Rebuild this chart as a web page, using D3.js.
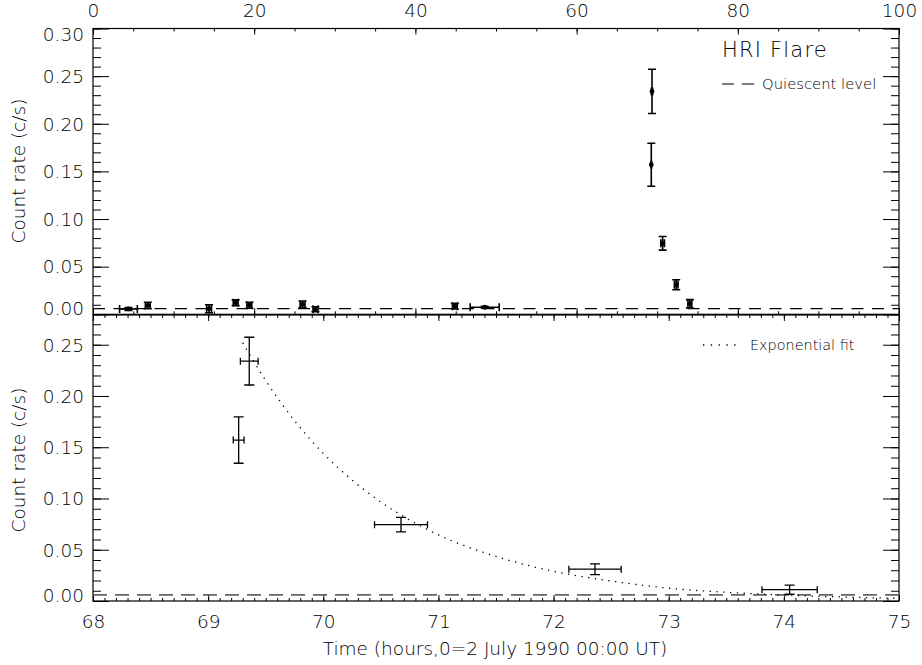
<!DOCTYPE html>
<html>
<head>
<meta charset="utf-8">
<title>HRI Flare</title>
<script src="https://cdn.jsdelivr.net/npm/d3@7"></script>
<style>
  body { margin: 0; background: #fff; }
  svg text { font-family: "DejaVu Sans", sans-serif; font-weight: 200; fill: #000; }
  .tick line { stroke: #000; }
</style>
</head>
<body>
<div id="chart"></div>
<script>
// quiescent (pre-flare) points, hours since 2 July 1990 00:00 UT
var preT       = [4.4, 6.8, 14.4, 17.7, 19.4, 26.0, 27.6, 44.9, 48.6];
var preRate    = [0.0056, 0.0093, 0.0058, 0.0121, 0.0095, 0.0105, 0.0054, 0.0085, 0.0074];
var preTErr    = [1.1, 0.3, 0.3, 0.3, 0.3, 0.3, 0.3, 0.3, 1.8];
var preRateErr = [0.0015, 0.0033, 0.0042, 0.003, 0.0032, 0.0035, 0.0026, 0.003, 0.001];

// flare points
var flareT       = [69.265, 69.357, 70.675, 72.36, 74.05];
var flareRate    = [0.157, 0.234, 0.0745, 0.031, 0.011];
var flareTErr    = [0.047, 0.077, 0.23, 0.227, 0.24];
var flareRateErr = [0.0226, 0.0233, 0.0071, 0.0053, 0.0044];

// exponential fit
var fitT = [69.3, 69.5, 69.75, 70.0, 70.25, 70.5, 70.75, 71.0, 71.5, 72.0, 72.5, 73.0, 73.5, 74.0, 74.5, 75.0];
var fitY = [0.252, 0.215, 0.176, 0.144, 0.118, 0.0965, 0.079, 0.0645, 0.0435, 0.029, 0.0195, 0.0125, 0.0085, 0.0058, 0.0039, 0.0026];

var quiescent = 0.006;

var topTicks = [0, 20, 40, 60, 80, 100];
var botTicks = [68, 69, 70, 71, 72, 73, 74, 75];
var topRateTicks = [0, 0.05, 0.10, 0.15, 0.20, 0.25, 0.30];
var botRateTicks = [0, 0.05, 0.10, 0.15, 0.20, 0.25];

var svg = d3.select("#chart").append("svg")
  .attr("width", 922).attr("height", 665);

var L = 93, R = 899;
var xTop = d3.scaleLinear().domain([0, 100]).range([L, R]);
var yTop = d3.scaleLinear().domain([0, 0.30]).range([314.3, 28.5]);
var xBot = d3.scaleLinear().domain([68, 75]).range([L, R]);
var yBot = d3.scaleLinear().domain([0, 0.279]).range([601, 315]);

var fmt = d3.format(".2f");

function minors(a, b, step) {
  var out = [];
  for (var v = a; v <= b + 1e-9; v += step) out.push(+v.toFixed(4));
  return out;
}

function addAxis(axis, tx, ty, cls) {
  var g = svg.append("g").attr("class", cls)
    .attr("transform", "translate(" + tx + "," + ty + ")")
    .call(axis);
  g.select(".domain").remove();
  g.selectAll("text").attr("font-size", 18.5);
  return g;
}

function panelAxes(x, y, xMajor, xMinorStep, yMajor, yMax, showTopLabels, showBottomLabels) {
  var y0 = y.range()[0], y1 = y.range()[1];
  var xDom = x.domain();

  // x ticks, top edge (pointing down)
  var ax = d3.axisTop(x).tickValues(xMajor).tickSize(-6).tickSizeOuter(0).tickPadding(12)
    .tickFormat(showTopLabels ? d3.format("d") : "");
  addAxis(ax, 0, y1, "xa");
  addAxis(d3.axisTop(x).tickValues(minors(xDom[0], xDom[1], xMinorStep)).tickSize(-3).tickFormat(""), 0, y1, "xm");

  // x ticks, bottom edge (pointing up)
  var bx = d3.axisBottom(x).tickValues(xMajor).tickSize(-6).tickSizeOuter(0).tickPadding(14)
    .tickFormat(showBottomLabels ? d3.format("d") : "");
  addAxis(bx, 0, y0, "xa");
  addAxis(d3.axisBottom(x).tickValues(minors(xDom[0], xDom[1], xMinorStep)).tickSize(-3).tickFormat(""), 0, y0, "xm");

  // y ticks left, with labels (end labels pulled inside the frame)
  var ly = addAxis(d3.axisLeft(y).tickValues(yMajor).tickSize(-16).tickSizeOuter(0).tickPadding(9).tickFormat(fmt), L, 0, "ya");
  ly.selectAll("text").attr("dy", "0.34em").attr("transform", function(d) {
    if (d === 0) return "translate(0,-6)";
    if (d >= 0.3) return "translate(0,6)";
    return null;
  });
  addAxis(d3.axisLeft(y).tickValues(minors(0, yMax, 0.01)).tickSize(-8).tickFormat(""), L, 0, "ym");

  // y ticks right
  addAxis(d3.axisRight(y).tickValues(yMajor).tickSize(-16).tickFormat(""), R, 0, "ya");
  addAxis(d3.axisRight(y).tickValues(minors(0, yMax, 0.01)).tickSize(-8).tickFormat(""), R, 0, "ym");

  // frame
  svg.append("rect")
    .attr("x", L).attr("y", y1)
    .attr("width", R - L).attr("height", y0 - y1)
    .attr("fill", "none").attr("stroke", "#000").attr("stroke-width", 1.2);
}

panelAxes(xTop, yTop, topTicks, 5, topRateTicks, 0.30, true, false);
panelAxes(xBot, yBot, botTicks, 0.1, botRateTicks, 0.279, false, true);

// clip paths
svg.append("clipPath").attr("id", "clipTop").append("rect")
  .attr("x", L).attr("y", 28.5).attr("width", R - L).attr("height", 314.3 - 28.5);
svg.append("clipPath").attr("id", "clipBot").append("rect")
  .attr("x", L).attr("y", 315).attr("width", R - L).attr("height", 601 - 315);

// ---- top panel ----
var gTop = svg.append("g").attr("clip-path", "url(#clipTop)");

gTop.append("line")
  .attr("x1", L).attr("x2", R)
  .attr("y1", yTop(quiescent)).attr("y2", yTop(quiescent))
  .attr("stroke", "#000").attr("stroke-width", 1.1)
  .attr("stroke-dasharray", "12,8.5");

function errBars(g, x, y, t, v, te, ve, capV, capH, sw) {
  for (var i = 0; i < t.length; i++) {
    var cx = x(t[i]), cy = y(v[i]);
    var yl = y(v[i] - ve[i]), yh = y(v[i] + ve[i]);
    var xl = x(t[i] - te[i]), xh = x(t[i] + te[i]);
    var p = "M" + cx + "," + yl + "V" + yh +
            "M" + (cx - capV) + "," + yl + "H" + (cx + capV) +
            "M" + (cx - capV) + "," + yh + "H" + (cx + capV) +
            "M" + xl + "," + cy + "H" + xh +
            "M" + xl + "," + (cy - capH) + "V" + (cy + capH) +
            "M" + xh + "," + (cy - capH) + "V" + (cy + capH);
    g.append("path").attr("d", p)
      .attr("fill", "none").attr("stroke", "#000").attr("stroke-width", sw);
  }
}

var allT = preT.concat(flareT);
var allR = preRate.concat(flareRate);
var allTE = preTErr.concat(flareTErr);
var allRE = preRateErr.concat(flareRateErr);

errBars(gTop, xTop, yTop, allT, allR, allTE, allRE, 4, 4, 1.6);

gTop.selectAll("circle.pt").data(d3.range(allT.length)).enter()
  .append("circle").attr("class", "pt")
  .attr("cx", function(i) { return xTop(allT[i]); })
  .attr("cy", function(i) { return yTop(allR[i]); })
  .attr("r", 2.4).attr("fill", "#000");

svg.append("text").attr("x", 722).attr("y", 56.5)
  .attr("font-size", 21).attr("letter-spacing", 1.2).text("HRI Flare");

svg.append("line")
  .attr("x1", 722).attr("x2", 754).attr("y1", 84).attr("y2", 84)
  .attr("stroke", "#000").attr("stroke-width", 1.1)
  .attr("stroke-dasharray", "12,8");
svg.append("text").attr("x", 762).attr("y", 88.5)
  .attr("font-size", 14.8).text("Quiescent level");

// ---- bottom panel ----
var gBot = svg.append("g").attr("clip-path", "url(#clipBot)");

gBot.append("line")
  .attr("x1", L).attr("x2", R)
  .attr("y1", yBot(quiescent)).attr("y2", yBot(quiescent))
  .attr("stroke", "#666").attr("stroke-width", 1.8)
  .attr("stroke-dasharray", "14,8");

var fitLine = d3.line()
  .x(function(d, i) { return xBot(fitT[i]); })
  .y(function(d, i) { return yBot(fitY[i]); })
  .curve(d3.curveMonotoneX);

gBot.append("path").attr("d", fitLine(fitT))
  .attr("fill", "none").attr("stroke", "#000").attr("stroke-width", 1.3)
  .attr("stroke-dasharray", "1.3,5.5");

errBars(gBot, xBot, yBot, flareT, flareRate, flareTErr, flareRateErr, 5, 3.5, 1.3);

svg.append("line")
  .attr("x1", 703).attr("x2", 738).attr("y1", 345).attr("y2", 345)
  .attr("stroke", "#000").attr("stroke-width", 1.3)
  .attr("stroke-dasharray", "1.3,6.5");
svg.append("text").attr("x", 750).attr("y", 349.5)
  .attr("font-size", 14.4).text("Exponential fit");

// titles
svg.append("text").attr("x", 495).attr("y", 655)
  .attr("text-anchor", "middle").attr("font-size", 18.5)
  .text("Time (hours,0=2 July 1990 00:00 UT)");

[[171, "Count rate (c/s)"], [460, "Count rate (c/s)"]].forEach(function(d) {
  svg.append("text")
    .attr("transform", "translate(25," + d[0] + ") rotate(-90)")
    .attr("text-anchor", "middle").attr("font-size", 18.5)
    .text(d[1]);
});
</script>
</body>
</html>
